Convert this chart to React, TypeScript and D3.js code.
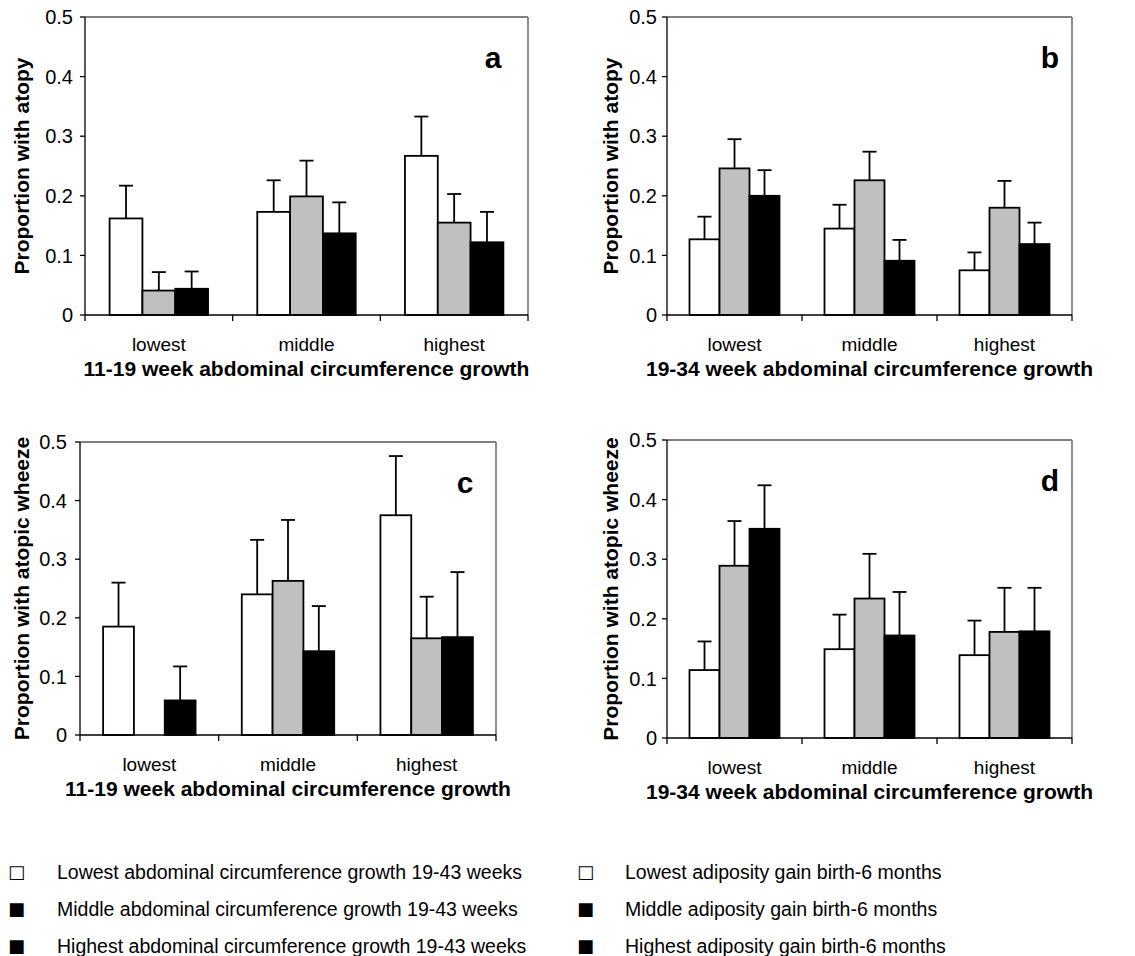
import React from "react";
import * as d3 from "d3";

// Tertile groups along the x axis
const categories = ["lowest", "middle", "highest"];
const yTicks = [0, 0.1, 0.2, 0.3, 0.4, 0.5];
const yTickLabels = ["0", "0.1", "0.2", "0.3", "0.4", "0.5"];
const seriesFills = ["#ffffff", "#c0c0c0", "#000000"];

// Panel a: atopy by 11-19 week AC growth (rows = white, grey, black series)
const aMeans = [
  [0.162, 0.173, 0.267],
  [0.041, 0.199, 0.155],
  [0.044, 0.137, 0.122],
];
const aUpper = [
  [0.217, 0.226, 0.333],
  [0.072, 0.259, 0.203],
  [0.073, 0.189, 0.173],
];

// Panel b: atopy by 19-34 week AC growth
const bMeans = [
  [0.127, 0.145, 0.075],
  [0.246, 0.226, 0.18],
  [0.2, 0.091, 0.119],
];
const bUpper = [
  [0.165, 0.185, 0.105],
  [0.295, 0.274, 0.225],
  [0.243, 0.126, 0.155],
];

// Panel c: atopic wheeze by 11-19 week AC growth
const cMeans = [
  [0.185, 0.24, 0.375],
  [0.0, 0.263, 0.165],
  [0.059, 0.143, 0.167],
];
const cUpper = [
  [0.26, 0.333, 0.476],
  [0.0, 0.367, 0.236],
  [0.117, 0.22, 0.278],
];

// Panel d: atopic wheeze by 19-34 week AC growth
const dMeans = [
  [0.114, 0.149, 0.139],
  [0.289, 0.234, 0.178],
  [0.351, 0.172, 0.179],
];
const dUpper = [
  [0.162, 0.207, 0.197],
  [0.364, 0.309, 0.252],
  [0.424, 0.245, 0.252],
];

const legendLeft = [
  "Lowest abdominal circumference growth 19-43 weeks",
  "Middle abdominal circumference growth 19-43 weeks",
  "Highest abdominal circumference growth 19-43 weeks",
];
const legendRight = [
  "Lowest adiposity gain birth-6 months",
  "Middle adiposity gain birth-6 months",
  "Highest adiposity gain birth-6 months",
];
const legendGlyphs = ["\u25A1", "\u25A0", "\u25A0"];

type PanelSpec = {
  letter: string;
  yTitle: string;
  xTitle: string;
  means: number[][];
  upper: number[][];
  left: number;
  right: number;
  top: number;
  bottom: number;
  yTitleX: number;
  letterX: number;
  tickGap: number;
};

const panels: PanelSpec[] = [
  {
    letter: "a",
    yTitle: "Proportion with atopy",
    xTitle: "11-19 week abdominal circumference growth",
    means: aMeans,
    upper: aUpper,
    left: 85,
    right: 528,
    top: 17,
    bottom: 315,
    yTitleX: 29,
    letterX: 493,
    tickGap: 12,
  },
  {
    letter: "b",
    yTitle: "Proportion with atopy",
    xTitle: "19-34 week abdominal circumference growth",
    means: bMeans,
    upper: bUpper,
    left: 667,
    right: 1072,
    top: 17,
    bottom: 315,
    yTitleX: 618,
    letterX: 1050,
    tickGap: 10,
  },
  {
    letter: "c",
    yTitle: "Proportion with atopic wheeze",
    xTitle: "11-19 week abdominal circumference growth",
    means: cMeans,
    upper: cUpper,
    left: 80,
    right: 496,
    top: 442,
    bottom: 735,
    yTitleX: 29,
    letterX: 465,
    tickGap: 13,
  },
  {
    letter: "d",
    yTitle: "Proportion with atopic wheeze",
    xTitle: "19-34 week abdominal circumference growth",
    means: dMeans,
    upper: dUpper,
    left: 667,
    right: 1072,
    top: 440,
    bottom: 738,
    yTitleX: 618,
    letterX: 1050,
    tickGap: 10,
  },
];

const FONT = "'Liberation Sans', Arial, Helvetica, sans-serif";

function Panel({ p }: { p: PanelSpec }) {
  const y = d3.scaleLinear().domain([0, 0.5]).range([p.bottom, p.top]);
  const x = d3
    .scaleBand<string>()
    .domain(categories)
    .range([p.left, p.right])
    .padding(0);
  const slot = x.bandwidth();
  // three bars per group, with a gap of 1.5 bar widths between groups
  const barW = slot / 4.5;
  const inner = d3
    .scaleBand<number>()
    .domain([0, 1, 2])
    .range([0, barW * 3])
    .padding(0);
  const capHalf = 7;
  const boundaries = [p.left, ...categories.map((c) => (x(c) as number) + slot)];
  const groupStart = (i: number) => (x(categories[i]) as number) + (slot - barW * 3) / 2;

  return (
    <g>
      {/* plot frame: top and right in grey */}
      <line x1={p.left} x2={p.right} y1={p.top} y2={p.top} stroke="#808080" strokeWidth={1.8} />
      <line x1={p.right} x2={p.right} y1={p.top} y2={p.bottom} stroke="#808080" strokeWidth={1.8} />

      {/* bars */}
      {p.means.map((row, s) =>
        row.map((v, i) => {
          const bx = groupStart(i) + (inner(s) as number);
          return (
            <rect
              key={`b${s}-${i}`}
              x={bx}
              y={y(v)}
              width={barW}
              height={y(0) - y(v)}
              fill={seriesFills[s]}
              stroke="#000"
              strokeWidth={1.8}
            />
          );
        })
      )}

      {/* upper error bars */}
      {p.upper.map((row, s) =>
        row.map((u, i) => {
          const v = p.means[s][i];
          if (u <= v) return null;
          const cx = groupStart(i) + (inner(s) as number) + barW / 2;
          return (
            <g key={`e${s}-${i}`} stroke="#000" strokeWidth={1.8}>
              <line x1={cx} x2={cx} y1={y(v)} y2={y(u)} />
              <line x1={cx - capHalf} x2={cx + capHalf} y1={y(u)} y2={y(u)} />
            </g>
          );
        })
      )}

      {/* y axis */}
      <line x1={p.left} x2={p.left} y1={p.top} y2={p.bottom} stroke="#000" strokeWidth={1.3} />
      {yTicks.map((t, k) => (
        <g key={`yt${k}`}>
          <line x1={p.left - 5} x2={p.left} y1={y(t)} y2={y(t)} stroke="#000" strokeWidth={1.3} />
          <text
            x={p.left - p.tickGap}
            y={y(t)}
            dy="0.36em"
            textAnchor="end"
            fontFamily={FONT}
            fontSize={20}
            fill="#000"
          >
            {yTickLabels[k]}
          </text>
        </g>
      ))}

      {/* x axis */}
      <line x1={p.left} x2={p.right} y1={p.bottom} y2={p.bottom} stroke="#000" strokeWidth={1.3} />
      {boundaries.map((bx, k) => (
        <line key={`xt${k}`} x1={bx} x2={bx} y1={p.bottom} y2={p.bottom + 6} stroke="#000" strokeWidth={1.3} />
      ))}
      {categories.map((c) => (
        <text
          key={c}
          x={(x(c) as number) + slot / 2}
          y={p.bottom + 36}
          textAnchor="middle"
          fontFamily={FONT}
          fontSize={19}
          fill="#000"
        >
          {c}
        </text>
      ))}
      <text
        x={(p.left + p.right) / 2}
        y={p.bottom + 61}
        textAnchor="middle"
        fontFamily={FONT}
        fontSize={21}
        fontWeight="bold"
        fill="#000"
      >
        {p.xTitle}
      </text>

      {/* y title */}
      <text
        transform={`translate(${p.yTitleX},${(p.top + p.bottom) / 2}) rotate(-90)`}
        textAnchor="middle"
        fontFamily={FONT}
        fontSize={21}
        fontWeight="bold"
        fill="#000"
      >
        {p.yTitle}
      </text>

      {/* panel letter */}
      <text
        x={p.letterX}
        y={p.top + 51}
        textAnchor="middle"
        fontFamily={FONT}
        fontSize={30}
        fontWeight="bold"
        fill="#000"
      >
        {p.letter}
      </text>
    </g>
  );
}

export default function App() {
  const rows = [872, 909, 946];
  return (
    <div style={{ position: "absolute", left: 0, top: 0 }}>
      <svg width={1135} height={956} style={{ display: "block", background: "#fff" }}>
        <rect x={0} y={0} width={1135} height={956} fill="#fff" />
        {panels.map((p) => (
          <Panel key={p.letter} p={p} />
        ))}
        {rows.map((ry, i) => (
          <g key={`lg${i}`}>
            <text x={8} y={ry} dy="0.36em" fontFamily="'DejaVu Sans', sans-serif" fontSize={18} fill="#000">
              {legendGlyphs[i]}
            </text>
            <text x={57} y={ry} dy="0.36em" fontFamily={FONT} fontSize={19.5} fill="#000">
              {legendLeft[i]}
            </text>
            <text x={577} y={ry} dy="0.36em" fontFamily="'DejaVu Sans', sans-serif" fontSize={18} fill="#000">
              {legendGlyphs[i]}
            </text>
            <text x={625} y={ry} dy="0.36em" fontFamily={FONT} fontSize={19.5} fill="#000">
              {legendRight[i]}
            </text>
          </g>
        ))}
      </svg>
    </div>
  );
}
